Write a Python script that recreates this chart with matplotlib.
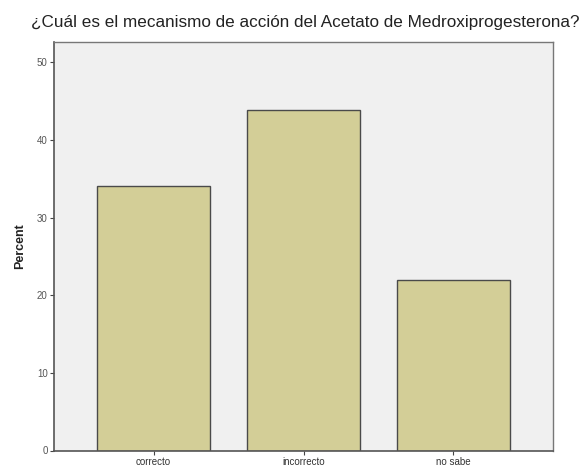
import matplotlib
matplotlib.use("Agg")
import matplotlib.pyplot as plt

categories = ["correcto", "incorrecto", "no sabe"]
percent = [34.1, 43.9, 22.0]
y_ticks = [0, 10, 20, 30, 40, 50]

plt.rcParams['font.family'] = ['Liberation Sans', 'DejaVu Sans']

fig = plt.figure(figsize=(5.83, 4.72), dpi=100)
fig.patch.set_facecolor('white')
ax = fig.add_axes([54 / 583, 1 - 450.5 / 472, (553 - 54) / 583, (450.5 - 42) / 472])
ax.set_facecolor('#f0f0f0')

x = range(len(categories))
ax.bar(x, percent, width=0.755, color='#d3ce97', edgecolor='#4a4a4a', linewidth=1.0, zorder=2)

ax.set_xlim(-0.665, 2.665)
ax.set_ylim(0, 52.6)
ax.set_xticks(list(x))
ax.set_xticklabels(categories, fontsize=7, color='#333333')
ax.set_yticks(y_ticks)
ax.set_yticklabels([str(t) for t in y_ticks], fontsize=7, color='#555555')
ax.tick_params(axis='both', length=3, width=0.8, color='#444444', pad=1.5)

for side in ['left', 'bottom']:
    ax.spines[side].set_color('#555555')
    ax.spines[side].set_linewidth(1.2)
for side in ['top', 'right']:
    ax.spines[side].set_color('#777777')
    ax.spines[side].set_linewidth(1.0)

ax.set_ylabel('Percent', fontsize=9, fontweight='bold', color='#222222', labelpad=8)

fig.text(0.5 + 14 / 583, 1 - 23 / 472,
         '¿Cuál es el mecanismo de acción del Acetato de Medroxiprogesterona?',
         ha='center', va='center', fontsize=12.3, color='#222222')

fig.savefig('out.png', dpi=100)
